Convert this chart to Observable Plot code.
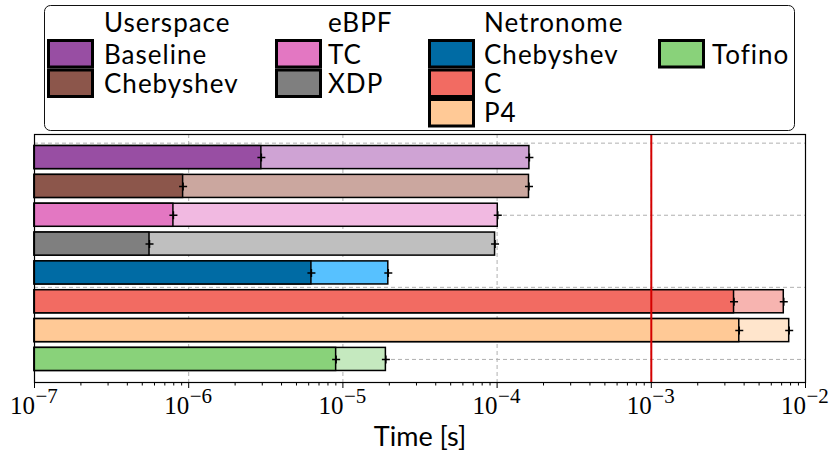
<!DOCTYPE html>
<html>
<head>
<meta charset="utf-8">
<script src="https://cdn.jsdelivr.net/npm/d3@7"></script>
<script src="https://cdn.jsdelivr.net/npm/@observablehq/plot@0.6"></script>
<style>
  html, body { margin: 0; padding: 0; background: #fff; }
  #chart { width: 836px; height: 454px; }
  #chart svg { display: block; }
</style>
</head>
<body>
<div id="chart"></div>
<script>
// ---- data ----
const categories = ["Userspace Baseline", "Userspace Chebyshev", "eBPF TC", "eBPF XDP",
                    "Netronome Chebyshev", "Netronome C", "Netronome P4", "Tofino"];
const lowValues  = [2.96e-6, 9.2e-7, 7.96e-7, 5.57e-7, 6.25e-6, 3.44e-3, 3.72e-3, 9.04e-6];
const highValues = [1.62e-4, 1.61e-4, 1.01e-4, 9.7e-5, 1.97e-5, 7.23e-3, 7.84e-3, 1.90e-5];
const darkColors  = ["#984ea3", "#8c564b", "#e377c2", "#7f7f7f", "#006ba4", "#f26b62", "#ffc996", "#89d27a"];
const lightColors = ["#cfa3d4", "#cba79f", "#f1b9e1", "#bfbfbf", "#57c1ff", "#f7b4b0", "#ffe5cc", "#c5e9bf"];
const deadline = [1e-3];
const decadeTicks = [1e-7, 1e-6, 1e-5, 1e-4, 1e-3, 1e-2];
const decadeExponents = ["\u22127", "\u22126", "\u22125", "\u22124", "\u22123", "\u22122"];
const yGridTicks = [0, 2.5, 5, 7.5];
const xLabel = "Time [s]";
const legendGroups = [
  {title: "Userspace", items: ["Baseline", "Chebyshev"], start: 0},
  {title: "eBPF", items: ["TC", "XDP"], start: 2},
  {title: "Netronome", items: ["Chebyshev", "C", "P4"], start: 4},
  {title: null, items: ["Tofino"], start: 7}
];

const sansFont = "Lato, 'Open Sans', sans-serif";
const serifFont = "'Liberation Serif', 'DejaVu Serif', serif";

// ---- legend (above the plot SVG) ----
const legendX = [{sw: 47, tx: 104}, {sw: 275, tx: 328}, {sw: 428, tx: 484}, {sw: 658, tx: 712}];
const legendRowTop = [39, 68.5, 98];
const legendBaseline = [64, 93, 122];
const legend = d3.create("svg").attr("width", 836).attr("height", 132)
  .attr("font-family", sansFont).attr("font-size", 26).attr("letter-spacing", 1);
legend.append("rect").attr("x", 44.5).attr("y", 5.5).attr("width", 750).attr("height", 125)
  .attr("rx", 6).attr("fill", "white").attr("stroke", "#111").attr("stroke-width", 1);
legendGroups.forEach((g, gi) => {
  const pos = legendX[gi];
  if (g.title) legend.append("text").attr("x", pos.tx).attr("y", 32).text(g.title);
  g.items.forEach((name, ii) => {
    legend.append("rect").attr("x", pos.sw + 1.5).attr("y", legendRowTop[ii] + 1.5)
      .attr("width", 44).attr("height", 26.5)
      .attr("fill", darkColors[g.start + ii]).attr("stroke", "black").attr("stroke-width", 3);
    legend.append("text").attr("x", pos.tx).attr("y", legendBaseline[ii]).text(name);
  });
});

// ---- plot ----
const rows = categories.map((c, i) => ({
  c, y: i + 0.5, low: lowValues[i], high: highValues[i], dark: darkColors[i], light: lightColors[i]
}));
const errPoints = rows.flatMap(d => [{x: d.low, y: d.y}, {x: d.high, y: d.y}]);
const tickLabels = decadeTicks.map((v, i) => ({v, exp: decadeExponents[i]}));
const plusSymbol = {
  draw(context) {
    context.moveTo(-4, 0); context.lineTo(4, 0);
    context.moveTo(0, -4); context.lineTo(0, 4);
  }
};
const minorTicks = d3.scaleLog().domain([1e-7, 1e-2]).ticks().filter(t => !decadeTicks.some(d => Math.abs(d - t) / d < 1e-6));
const halfBar = 0.4;

const plot = Plot.plot({
  width: 836,
  height: 322,
  marginTop: 2,
  marginLeft: 34,
  marginRight: 31,
  marginBottom: 72,
  style: {fontFamily: serifFont, background: "white", overflow: "visible"},
  x: {type: "log", domain: [1e-7, 1e-2]},
  y: {domain: [-0.3, 8.3], reverse: true, axis: null},
  color: {type: "identity"},
  marks: [
    Plot.ruleX(decadeTicks, {stroke: "#b0b0b0", strokeDasharray: "4,3", strokeWidth: 1}),
    Plot.ruleY(yGridTicks, {stroke: "#b0b0b0", strokeDasharray: "4,3", strokeWidth: 1}),
    Plot.rect(rows, {x1: () => 1e-7, x2: "high", y1: d => d.y - halfBar, y2: d => d.y + halfBar,
      fill: "light", stroke: "black", strokeWidth: 1.5}),
    Plot.rect(rows, {x1: () => 1e-7, x2: "low", y1: d => d.y - halfBar, y2: d => d.y + halfBar,
      fill: "dark", stroke: "black", strokeWidth: 1.5}),
    Plot.dot(errPoints, {x: "x", y: "y", symbol: plusSymbol, fill: "none", stroke: "black", strokeWidth: 1.5}),
    Plot.ruleX(deadline, {stroke: "#d40000", strokeWidth: 2}),
    Plot.axisX(minorTicks, {tickSize: 3.5, tickFormat: () => "", label: null, stroke: "black", strokeWidth: 1}),
    Plot.axisX(decadeTicks, {tickSize: 6, tickFormat: () => "", label: null, stroke: "black", strokeWidth: 1}),
    Plot.text(tickLabels, {x: "v", text: () => "10", frameAnchor: "bottom", dy: 31, dx: 0.5,
      lineAnchor: "bottom", textAnchor: "end", fontSize: 25, fontFamily: serifFont, fill: "black"}),
    Plot.text(tickLabels, {x: "v", text: "exp", frameAnchor: "bottom", dy: 20.5, dx: 1,
      lineAnchor: "bottom", textAnchor: "start", fontSize: 21, fontFamily: serifFont, fill: "black"}),
    Plot.text([xLabel], {frameAnchor: "bottom", dy: 63, lineAnchor: "bottom", fontSize: 27,
      fontFamily: sansFont, fill: "black", letterSpacing: 1.2}),
    Plot.frame({stroke: "black", strokeWidth: 1.2})
  ]
});

const chart = document.getElementById("chart");
chart.appendChild(legend.node());
chart.appendChild(plot);
</script>
</body>
</html>
